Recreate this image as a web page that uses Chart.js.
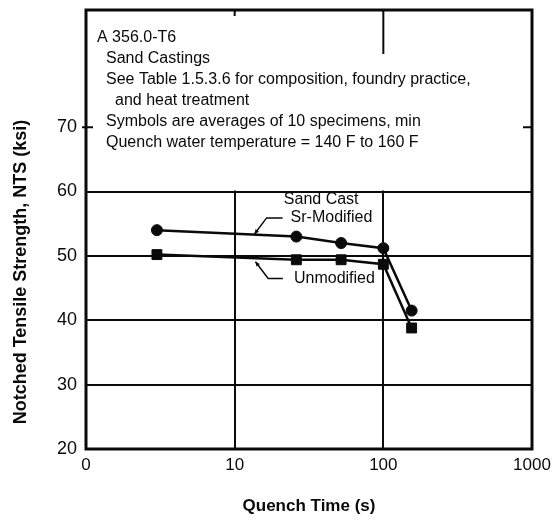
<!DOCTYPE html>
<html lang="en">
<head>
<meta charset="UTF-8">
<title>A356.0-T6 Notched Tensile Strength vs Quench Time</title>
<script src="https://cdn.jsdelivr.net/npm/chart.js@4.4.1/dist/chart.umd.min.js"></script>
<style>
  body { margin: 0; background: #fff; }
  #wrap { width: 555px; height: 520px; }
</style>
</head>
<body>
<div id="wrap"><canvas id="myChart" width="555" height="520"></canvas></div>
<script>
// quench time (s), log axis; the "0" label sits at 1
const quenchTimes = [3, 26, 52, 100, 155];
// notched tensile strength (ksi)
const srModified = [54.0, 53.0, 52.0, 51.2, 41.5];
const unmodified = [50.2, 49.4, 49.4, 48.7, 38.8];
const xTicks = [1, 10, 100, 1000];
const yTicks = [20, 30, 40, 50, 60, 70];
const notes = [
    "A 356.0-T6",
    "Sand Castings",
    "See Table 1.5.3.6 for composition, foundry practice,",
    "and heat treatment",
    "Symbols are averages of 10 specimens, min",
    "Quench water temperature = 140 F to 160 F"
];

const FONT = '"Liberation Sans", Arial, sans-serif';
const INK = '#0a0a0a';
const noteIndent = [0, 9, 9, 18, 9, 9];

function leader(ctx, pts) {
    // thin callout line with a small arrow at the first point
    ctx.beginPath();
    ctx.moveTo(pts[0][0], pts[0][1]);
    for (let i = 1; i < pts.length; i++) ctx.lineTo(pts[i][0], pts[i][1]);
    ctx.stroke();
    const [x0, y0] = pts[0], [x1, y1] = pts[1];
    const ang = Math.atan2(y0 - y1, x0 - x1);
    ctx.beginPath();
    ctx.moveTo(x0, y0);
    ctx.lineTo(x0 - 5 * Math.cos(ang - 0.45), y0 - 5 * Math.sin(ang - 0.45));
    ctx.lineTo(x0 - 5 * Math.cos(ang + 0.45), y0 - 5 * Math.sin(ang + 0.45));
    ctx.closePath();
    ctx.fill();
}

const extras = {
    id: 'extras',
    beforeDatasetsDraw(chart) {
        const {ctx, chartArea: a, scales: {x, y}} = chart;
        ctx.save();
        // white panel behind the notes hides the upper grid
        ctx.fillStyle = '#fff';
        ctx.fillRect(a.left + 2, a.top + 2, a.right - a.left - 4, y.getPixelForValue(60) - a.top - 3);

        ctx.strokeStyle = INK;
        ctx.lineWidth = 2;
        ctx.beginPath();
        const y70 = y.getPixelForValue(70);
        ctx.moveTo(a.left - 4, y70); ctx.lineTo(a.left + 7, y70);
        ctx.moveTo(a.right - 9, y70); ctx.lineTo(a.right, y70);
        const x10 = x.getPixelForValue(10), x100 = x.getPixelForValue(100);
        ctx.moveTo(x10, a.top); ctx.lineTo(x10, a.top + 6);
        ctx.moveTo(x100, a.top); ctx.lineTo(x100, a.top + 44);
        ctx.stroke();

        ctx.lineWidth = 3;
        ctx.strokeRect(a.left, a.top, a.right - a.left, a.bottom - a.top);

        ctx.fillStyle = INK;
        ctx.font = '16px ' + FONT;
        ctx.textBaseline = 'middle';
        ctx.textAlign = 'left';
        notes.forEach((t, i) => ctx.fillText(t, a.left + 11 + noteIndent[i], a.top + 28 + i * 21));

        // curve labels
        ctx.textAlign = 'center';
        ctx.fillText('Sand Cast', x.getPixelForValue(38.2), y.getPixelForValue(58.8));
        ctx.fillText('Sr-Modified', x.getPixelForValue(44.8), y.getPixelForValue(56.0));
        ctx.fillText('Unmodified', x.getPixelForValue(46.9), y.getPixelForValue(46.5));

        ctx.lineWidth = 1.5;
        const P = (vx, vy) => [x.getPixelForValue(vx), y.getPixelForValue(vy)];
        leader(ctx, [P(13.6, 53.4), P(16.4, 55.9), P(21, 55.9)]);
        leader(ctx, [P(13.8, 49.1), P(16.8, 46.5), P(21.1, 46.5)]);
        ctx.restore();
    },
    afterDraw(chart) {
        const {ctx} = chart;
        ctx.save();
        ctx.translate(21, 272);
        ctx.rotate(-Math.PI / 2);
        ctx.fillStyle = INK;
        ctx.font = 'bold 18px ' + FONT;
        ctx.textAlign = 'center';
        ctx.textBaseline = 'middle';
        ctx.fillText('Notched Tensile Strength, NTS (ksi)', 0, 0);
        ctx.restore();
    }
};

function series(ys) {
    return quenchTimes.map((t, i) => ({x: t, y: ys[i]}));
}

new Chart('myChart', {
    type: 'line',
    data: {
        datasets: [{
            label: 'Sand Cast Sr-Modified',
            data: series(srModified),
            borderColor: INK,
            backgroundColor: INK,
            borderWidth: 2.5,
            pointStyle: 'circle',
            pointRadius: 5.5,
            pointBorderWidth: 1,
            tension: 0
        }, {
            label: 'Unmodified',
            data: series(unmodified),
            borderColor: INK,
            backgroundColor: INK,
            borderWidth: 2.5,
            pointStyle: 'rect',
            pointRadius: 7,
            pointBorderWidth: 1,
            tension: 0
        }]
    },
    options: {
        responsive: false,
        animation: false,
        layout: {padding: {top: 10, right: 23, left: 0, bottom: 0}},
        plugins: {legend: {display: false}, tooltip: {enabled: false}},
        scales: {
            x: {
                type: 'logarithmic',
                min: 1,
                max: 1000,
                afterBuildTicks: s => { s.ticks = xTicks.map(v => ({value: v})); },
                afterFit: s => { s.height = 71; s.paddingLeft = 0; s.paddingRight = 0; },
                ticks: {
                    callback: v => v === 1 ? '0' : String(v),
                    color: INK,
                    font: {size: 17, family: FONT},
                    padding: 6,
                    maxRotation: 0,
                    autoSkip: false
                },
                grid: {
                    color: c => (c.tick && (c.tick.value === 10 || c.tick.value === 100)) ? INK : 'rgba(0,0,0,0)',
                    lineWidth: 2,
                    drawTicks: false
                },
                border: {display: false},
                title: {
                    display: true,
                    text: 'Quench Time (s)',
                    color: INK,
                    font: {size: 17, weight: 'bold', family: FONT},
                    padding: {top: 0, bottom: 3}
                }
            },
            y: {
                min: 20,
                max: 88.2,
                afterBuildTicks: s => { s.ticks = yTicks.map(v => ({value: v})); },
                afterFit: s => { s.width = 86; s.paddingTop = 0; s.paddingBottom = 0; },
                ticks: {
                    color: INK,
                    font: {size: 18, family: FONT},
                    padding: 9
                },
                grid: {
                    color: c => (c.tick && c.tick.value >= 30 && c.tick.value <= 60) ? INK : 'rgba(0,0,0,0)',
                    lineWidth: 2,
                    drawTicks: false
                },
                border: {display: false}
            }
        }
    },
    plugins: [extras]
});
</script>
</body>
</html>
